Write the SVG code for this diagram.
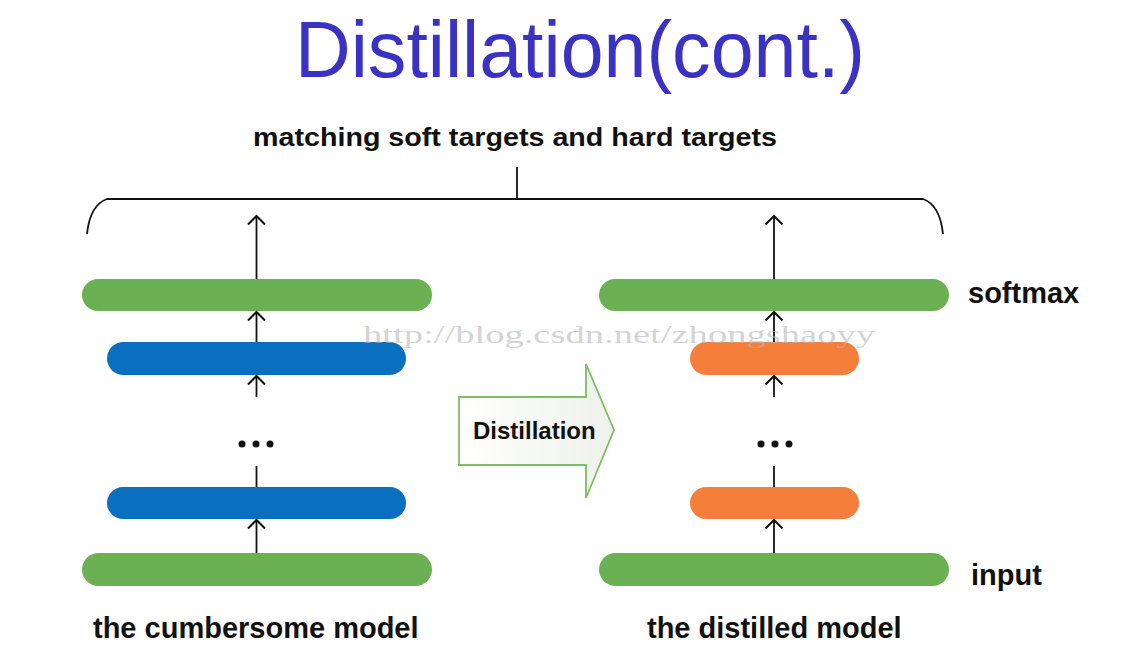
<svg xmlns="http://www.w3.org/2000/svg" width="1139" height="665" viewBox="0 0 1139 665">
<style>
.lbl{font-family:"Liberation Sans",Arial,sans-serif;font-weight:bold;fill:#111;}
.green{fill:#6bb052;}
.blue{fill:#0a6fbf;}
.orange{fill:#f57f3a;}
.ln{stroke:#111;stroke-width:1.8;fill:none;}
.dot{fill:#111;}
</style>
<defs>
<marker id="ah" viewBox="-10 -10 20 20" markerWidth="20" markerHeight="20" markerUnits="userSpaceOnUse" refX="0" refY="0" orient="auto">
<polyline points="-8.5,-8.5 0,0 -8.5,8.5" fill="none" stroke="#111" stroke-width="2"/>
</marker>
<linearGradient id="ag" x1="0" y1="0" x2="1" y2="0">
<stop offset="0" stop-color="#ffffff"/>
<stop offset="1" stop-color="#edf1ea"/>
</linearGradient>
</defs>
<rect width="1139" height="665" fill="#ffffff"/>
<text id="title" x="295" y="77" textLength="570" lengthAdjust="spacingAndGlyphs" font-family="Liberation Sans,Arial,sans-serif" font-size="80" fill="#3b32c4">Distillation(cont.)</text>
<text id="subtitle" class="lbl" x="253" y="146" font-size="26" textLength="524" lengthAdjust="spacingAndGlyphs">matching soft targets and hard targets</text>
<g id="bracket">
<path class="ln" d="M87,234 Q90,205 107,199 L923,199 Q940,205 943,234"/>
<line class="ln" x1="517" y1="167" x2="517" y2="199"/>
</g>
<g id="cumbersome">
<rect id="c-softmax" class="green" x="82" y="279" width="350" height="32" rx="16"/>
<rect id="c-hidden2" class="blue" x="107" y="342" width="299" height="33" rx="16.5"/>
<rect id="c-hidden1" class="blue" x="107" y="487" width="299" height="32" rx="16"/>
<rect id="c-input" class="green" x="82" y="553" width="350" height="33" rx="16.5"/>
<circle class="dot" cx="242" cy="444" r="3.5"/><circle class="dot" cx="256" cy="444" r="3.5"/><circle class="dot" cx="270" cy="444" r="3.5"/>
<text class="lbl" x="93" y="638" font-size="29">the cumbersome model</text>
</g>
<g id="distilled">
<rect id="d-softmax" class="green" x="599" y="279" width="350" height="32" rx="16"/>
<rect id="d-hidden2" class="orange" x="690" y="342" width="169" height="33" rx="16.5"/>
<rect id="d-hidden1" class="orange" x="690" y="487" width="169" height="32" rx="16"/>
<rect id="d-input" class="green" x="599" y="553" width="350" height="33" rx="16.5"/>
<circle class="dot" cx="761" cy="444" r="3.5"/><circle class="dot" cx="775" cy="444" r="3.5"/><circle class="dot" cx="789" cy="444" r="3.5"/>
<text class="lbl" x="647" y="638" font-size="29">the distilled model</text>
<text class="lbl" x="968" y="303" font-size="29">softmax</text>
<text class="lbl" x="971" y="585" font-size="29">input</text>
</g>
<g id="distillation-arrow">
<polygon points="459,397 586,397 586,364 614,430 586,498 586,465 459,465" fill="url(#ag)" stroke="#7cbf63" stroke-width="1.8"/>
<text class="lbl" x="473" y="439" font-size="24">Distillation</text>
</g>
<g id="connectors">
<line class="ln" x1="256.5" y1="279" x2="256.5" y2="216" marker-end="url(#ah)"/>
<line class="ln" x1="256.5" y1="342" x2="256.5" y2="312" marker-end="url(#ah)"/>
<line class="ln" x1="256.5" y1="397" x2="256.5" y2="376" marker-end="url(#ah)"/>
<line class="ln" x1="256.5" y1="466" x2="256.5" y2="487"/>
<line class="ln" x1="256.5" y1="553" x2="256.5" y2="520" marker-end="url(#ah)"/>
<line class="ln" x1="774" y1="279" x2="774" y2="216" marker-end="url(#ah)"/>
<line class="ln" x1="774" y1="342" x2="774" y2="312" marker-end="url(#ah)"/>
<line class="ln" x1="774" y1="397" x2="774" y2="376" marker-end="url(#ah)"/>
<line class="ln" x1="774" y1="466" x2="774" y2="487"/>
<line class="ln" x1="774" y1="553" x2="774" y2="520" marker-end="url(#ah)"/>
</g>
<text id="watermark" x="363" y="343" font-family="Liberation Serif,Times New Roman,serif" font-size="26" textLength="512" lengthAdjust="spacingAndGlyphs" fill="#b8b8b8" fill-opacity="0.6">http://blog.csdn.net/zhongshaoyy</text>
</svg>
